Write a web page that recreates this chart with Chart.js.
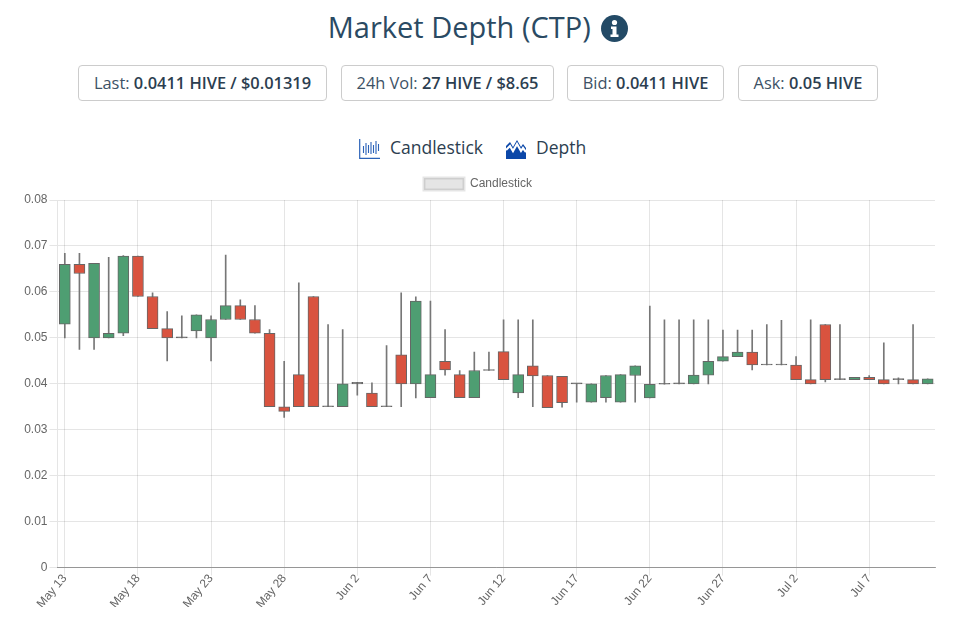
<!DOCTYPE html>
<html>
<head>
<meta charset="utf-8">
<title>Market Depth (CTP)</title>
<script src="https://cdn.jsdelivr.net/npm/chart.js@4/dist/chart.umd.min.js"></script>
<style>
  html, body { margin: 0; padding: 0; background: #fff; overflow: hidden; }
  body { width: 978px; height: 636px; position: relative; font-family: "Open Sans", sans-serif; }
  .title { position: absolute; left: 0; width: 956px; top: 7px; text-align: center; font-size: 29px; line-height: 40px; font-weight: 500; color: #2a4a63; white-space: nowrap; }
  .title svg { vertical-align: -4px; margin-left: 3px; }
  .stat { position: absolute; top: 65px; height: 34px; line-height: 34px; border: 1px solid #ccc; border-radius: 4px; text-align: center; font-size: 16.4px; color: #3d5266; }
  .stat b { font-weight: 600; color: #2c3e50; }
  .tab { position: absolute; top: 135px; font-size: 17.5px; line-height: 24px; color: #2c3e50; }
  .tab svg { position: absolute; top: 4px; }
  #chartWrap { position: absolute; left: 0; top: 164px; width: 956px; height: 443px; }
</style>
</head>
<body>
<div class="title">Market Depth (CTP)
  <svg width="27" height="27" viewBox="0 0 27 27"><circle cx="13.5" cy="13.5" r="13.5" fill="#234a66"/><circle cx="13.5" cy="7.5" r="2.6" fill="#fff"/><path d="M10 11.5h5.5v8H17.5v2.5h-8v-2.5h2v-5.5h-1.5z" fill="#fff"/></svg>
</div>
<div class="stat" style="left:78px;width:247px">Last: <b>0.0411 HIVE / $0.01319</b></div>
<div class="stat" style="left:341px;width:211px">24h Vol: <b>27 HIVE / $8.65</b></div>
<div class="stat" style="left:567px;width:155px">Bid: <b>0.0411 HIVE</b></div>
<div class="stat" style="left:738px;width:138px">Ask: <b>0.05 HIVE</b></div>
<div class="tab" style="left:390px">
  <svg style="left:-31px" width="21" height="20" viewBox="0 0 21 20"><path d="M.7 0v19.3H21" fill="none" stroke="#2a62b8" stroke-width="1.2"/><path d="M4.5 7v7M7 4v12M9.5 6v8M12 3v12M14.5 6v8M17 2v13M19.5 5v7" stroke="#2a62b8" stroke-width="1.1"/></svg>
  Candlestick</div>
<div class="tab" style="left:536px">
  <svg style="left:-30px" width="20" height="20" viewBox="0 0 20 20"><path d="M0 7l4-4 3 5 4-7 4 7 2-3 3 4v11H0z" fill="#0b47a8"/><path d="M0 11l4-4 3 5 4-7 4 7 2-3 3 4" fill="none" stroke="#fff" stroke-width="2.2"/></svg>
  Depth</div>
<div id="chartWrap"><canvas id="candleChart" width="956" height="443"></canvas></div>
<script>
const days = [
  "May 13","May 14","May 15","May 16","May 17","May 18","May 19","May 20","May 21","May 22",
  "May 23","May 24","May 25","May 26","May 27","May 28","May 29","May 30","May 31","Jun 1",
  "Jun 2","Jun 3","Jun 4","Jun 5","Jun 6","Jun 7","Jun 8","Jun 9","Jun 10","Jun 11",
  "Jun 12","Jun 13","Jun 14","Jun 15","Jun 16","Jun 17","Jun 18","Jun 19","Jun 20","Jun 21",
  "Jun 22","Jun 23","Jun 24","Jun 25","Jun 26","Jun 27","Jun 28","Jun 29","Jun 30","Jul 1",
  "Jul 2","Jul 3","Jul 4","Jul 5","Jul 6","Jul 7","Jul 8","Jul 9","Jul 10","Jul 11"
];
const opens = [
  0.053,0.066,0.05,0.05,0.051,0.0678,0.059,0.052,0.05,0.0515,
  0.05,0.054,0.057,0.054,0.051,0.035,0.042,0.059,0.035,0.035,
  0.04,0.038,0.035,0.0463,0.04,0.037,0.0449,0.042,0.037,0.0429,
  0.047,0.038,0.0439,0.0418,0.0416,0.04,0.036,0.037,0.036,0.0418,
  0.0369,0.0399,0.04,0.04,0.0419,0.0449,0.0459,0.0469,0.0441,0.0441,
  0.0441,0.0409,0.0529,0.0409,0.0409,0.0414,0.0409,0.0409,0.0409,0.04
];
const closes = [
  0.066,0.064,0.0662,0.051,0.0678,0.059,0.052,0.05,0.05,0.055,
  0.054,0.057,0.054,0.051,0.035,0.034,0.035,0.035,0.035,0.04,
  0.0403,0.035,0.035,0.04,0.058,0.042,0.043,0.037,0.0429,0.0429,
  0.0409,0.042,0.0417,0.0348,0.0359,0.04,0.04,0.0418,0.042,0.0439,
  0.0399,0.0399,0.04,0.0419,0.0449,0.0459,0.0469,0.0441,0.0441,0.0441,
  0.0409,0.04,0.0409,0.0409,0.0414,0.0409,0.04,0.0409,0.04,0.0411
];
const highs = [
  0.0684,0.0684,0.0662,0.0675,0.0679,0.0678,0.0598,0.0557,0.0548,0.055,
  0.0548,0.068,0.0583,0.057,0.0518,0.0449,0.062,0.059,0.0529,0.0518,
  0.0403,0.0402,0.0483,0.0598,0.0589,0.058,0.0518,0.0429,0.0469,0.0469,
  0.0539,0.0539,0.0539,0.0418,0.0416,0.04,0.04,0.0418,0.042,0.0439,
  0.0569,0.0539,0.0539,0.0539,0.0539,0.0517,0.0517,0.0517,0.0529,0.0538,
  0.0459,0.0539,0.0529,0.0529,0.0414,0.0418,0.0489,0.0413,0.0529,0.0411
];
const lows = [
  0.05,0.0475,0.0475,0.05,0.0505,0.059,0.052,0.045,0.05,0.05,
  0.045,0.054,0.054,0.051,0.035,0.0327,0.035,0.035,0.035,0.035,
  0.0375,0.035,0.035,0.035,0.0369,0.037,0.0419,0.037,0.037,0.0429,
  0.0409,0.037,0.035,0.0348,0.0349,0.036,0.036,0.036,0.036,0.036,
  0.0369,0.0399,0.04,0.04,0.04,0.0449,0.0459,0.043,0.0441,0.0441,
  0.0409,0.04,0.0404,0.0409,0.0409,0.0409,0.04,0.04,0.04,0.04
];

const upColor = "#4e9e72";
const downColor = "#d9533f";
const edgeColor = "#666";
const wickColor = "#777";

const isFlat = (i) => Math.abs(opens[i] - closes[i]) < 0.0004;

new Chart(document.getElementById("candleChart"), {
  type: "bar",
  data: {
    labels: days,
    datasets: [
      {
        label: "Candlestick",
        data: days.map((d, i) => [opens[i], closes[i]]),
        grouped: false,
        barThickness: 11,
        minBarLength: 1,
        borderSkipped: false,
        borderWidth: 1,
        borderColor: edgeColor,
        backgroundColor: (c) => {
          const i = c.dataIndex;
          if (isFlat(i)) return edgeColor;
          return closes[i] >= opens[i] ? upColor : downColor;
        },
      },
      {
        label: "Wick",
        data: days.map((d, i) => [lows[i], highs[i]]),
        grouped: false,
        barThickness: 1,
        backgroundColor: wickColor,
        borderWidth: 0,
      },
    ],
  },
  options: {
    responsive: false,
    animation: false,
    layout: { padding: { top: 4 } },
    plugins: {
      tooltip: { enabled: false },
      legend: {
        display: true,
        labels: {
          boxWidth: 40,
          boxHeight: 12,
          font: { family: "Liberation Sans", size: 12 },
          color: "#666",
          generateLabels: () => [
            { text: "Candlestick", fontColor: "#666", fillStyle: "rgba(0,0,0,0.1)", strokeStyle: "rgba(0,0,0,0.1)", lineWidth: 3, datasetIndex: 0 },
          ],
        },
      },
    },
    scales: {
      x: {
        offset: true,
        grid: { offset: false, color: "rgba(0,0,0,0.1)", tickLength: 8 },
        border: { color: "rgba(0,0,0,0.35)" },
        afterBuildTicks: (axis) => {
          axis.ticks = axis.ticks.filter((t) => t.value % 5 === 0);
        },
        ticks: {
          autoSkip: false,
          maxRotation: 50,
          minRotation: 50,
          padding: -4,
          color: "#666",
          font: { family: "Liberation Sans", size: 12 },
        },
      },
      y: {
        min: 0,
        max: 0.08,
        afterFit: (axis) => { axis.width = 57.5; },
        border: { color: "rgba(0,0,0,0.1)" },
        grid: { color: "rgba(0,0,0,0.1)", tickLength: 8 },
        ticks: {
          stepSize: 0.01,
          padding: 2,
          color: "#666",
          font: { family: "Liberation Sans", size: 12 },
        },
      },
      // empty axis keeps the plot clear of the right edge so the legend stays centred
      gutter: {
        position: "right",
        afterFit: (axis) => { axis.width = 21; },
        grid: { display: false },
        border: { display: false },
        ticks: { display: false },
      },
    },
  },
});
</script>
</body>
</html>
